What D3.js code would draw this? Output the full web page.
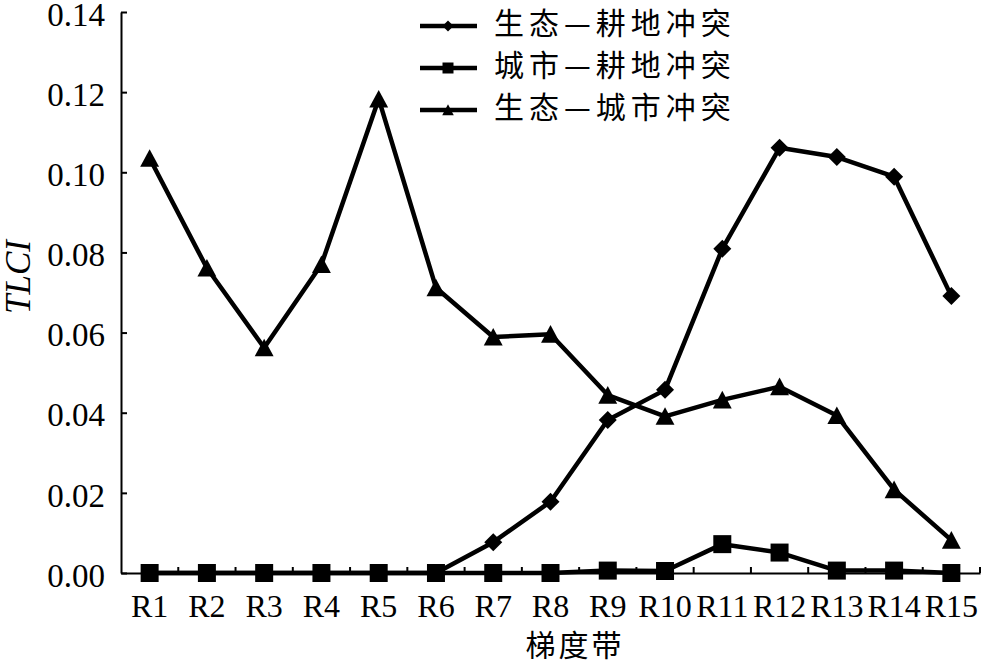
<!DOCTYPE html>
<html>
<head>
<meta charset="utf-8">
<script src="https://cdn.jsdelivr.net/npm/d3@7"></script>
<style>
  html, body { margin: 0; padding: 0; background: #fff; }
  svg { display: block; }
</style>
</head>
<body>
<svg id="chart" width="1000" height="666"></svg>
<script>
const categories = ["R1","R2","R3","R4","R5","R6","R7","R8","R9","R10","R11","R12","R13","R14","R15"];
const seriesNames = ["生态—耕地冲突", "城市—耕地冲突", "生态—城市冲突"];
const ecoFarm   = [0, 0, 0, 0, 0, 0, 0.0077, 0.0178, 0.0382, 0.0457, 0.0809, 0.1061, 0.1038, 0.0989, 0.0691];
const urbanFarm = [0, 0, 0, 0, 0, 0, 0, 0, 0.0006, 0.0005, 0.0072, 0.0051, 0.0006, 0.0006, 0];
const ecoUrban  = [0.1035, 0.0761, 0.0562, 0.0770, 0.1183, 0.0712, 0.0589, 0.0596, 0.0444, 0.0391, 0.0432, 0.0465, 0.0393, 0.0208, 0.0082];
const yTicks = [0, 0.02, 0.04, 0.06, 0.08, 0.10, 0.12, 0.14];
const xTitle = "梯度带";
const yTitle = "TLCI";

const series = [
  { name: seriesNames[0], values: ecoFarm, symbol: "diamond" },
  { name: seriesNames[1], values: urbanFarm, symbol: "square" },
  { name: seriesNames[2], values: ecoUrban, symbol: "triangle" }
];

const svg = d3.select("#chart");
const mLeft = 121, mRight = 980, mTop = 12, mBottom = 573;
const serif = "'Liberation Serif', 'Times New Roman', serif";
const cjk = "'Noto Sans CJK SC', sans-serif";

const x = d3.scaleBand().domain(categories).range([mLeft, mRight]).padding(0);
const xc = c => x(c) + x.bandwidth() / 2;
const y = d3.scaleLinear().domain([0, 0.14]).range([mBottom, mTop]);

function markerPath(type, s) {
  if (type === "diamond") return `M0,${-s}L${s},0L0,${s}L${-s},0Z`;
  if (type === "square") return `M${-s},${-s}H${s}V${s}H${-s}Z`;
  const h = s * 1.9;
  return `M0,${-h/2 - 0.5}L${s*1.05},${h/2}L${-s*1.05},${h/2}Z`;
}

// Y axis
const yAxis = d3.axisLeft(y).tickValues(yTicks).tickFormat(d3.format(".2f"))
  .tickSizeInner(-6).tickSizeOuter(0).tickPadding(16);
const gy = svg.append("g").attr("transform", `translate(${mLeft},0)`).call(yAxis);
gy.select(".domain").attr("stroke", "#000").attr("stroke-width", 2);
gy.selectAll(".tick line").attr("stroke", "#000").attr("stroke-width", 2);
gy.selectAll("text").attr("font-family", serif).attr("font-size", 33).attr("fill", "#000")
  .attr("dy", "0.4em");

// X axis
const xAxis = d3.axisBottom(x).tickSize(0).tickPadding(0);
const gx = svg.append("g").attr("transform", `translate(0,${mBottom})`).call(xAxis);
gx.select(".domain").attr("stroke", "#000").attr("stroke-width", 2);
gx.selectAll("text").attr("font-family", serif).attr("font-size", 32).attr("fill", "#000")
  .attr("y", 44).attr("dy", 0);
// boundary ticks (inward)
gx.selectAll(".bticks").data(categories).enter().append("line")
  .attr("x1", c => x(c) + x.bandwidth()).attr("x2", c => x(c) + x.bandwidth())
  .attr("y1", 0).attr("y2", -6).attr("stroke", "#000").attr("stroke-width", 2);

// Titles
svg.append("text").attr("x", 575).attr("y", 656).attr("text-anchor", "middle")
  .attr("font-family", cjk).attr("font-size", 30).attr("letter-spacing", 3).attr("fill", "#000").text(xTitle);
svg.append("text").attr("transform", "translate(30,277) rotate(-90)").attr("text-anchor", "middle")
  .attr("font-family", serif).attr("font-style", "italic").attr("font-size", 35).attr("fill", "#000").text(yTitle);

// Lines and markers
const line = d3.line().x((d, i) => xc(categories[i])).y(d => y(d));
series.forEach(s => {
  svg.append("path").datum(s.values).attr("d", line)
    .attr("fill", "none").attr("stroke", "#000").attr("stroke-width", 4.5).attr("stroke-linejoin", "round");
});
series.forEach(s => {
  svg.selectAll(null).data(s.values).enter().append("path")
    .attr("transform", (d, i) => `translate(${xc(categories[i])},${y(d)})`)
    .attr("d", markerPath(s.symbol, 9)).attr("fill", "#000");
});

// Legend
const legend = svg.append("g");
const rowsY = [26, 68, 110];
series.forEach((s, i) => {
  const g = legend.append("g").attr("transform", `translate(0,${rowsY[i]})`);
  g.append("line").attr("x1", 420).attr("x2", 477).attr("y1", 0).attr("y2", 0)
    .attr("stroke", "#000").attr("stroke-width", 4.5);
  g.append("path").attr("transform", "translate(448,0)").attr("d", markerPath(s.symbol, 5.5)).attr("fill", "#000");
  g.append("text").attr("x", 494).attr("y", 8).attr("letter-spacing", 5)
    .attr("font-family", cjk).attr("font-size", 30).attr("fill", "#000").text(s.name);
});
</script>
</body>
</html>
